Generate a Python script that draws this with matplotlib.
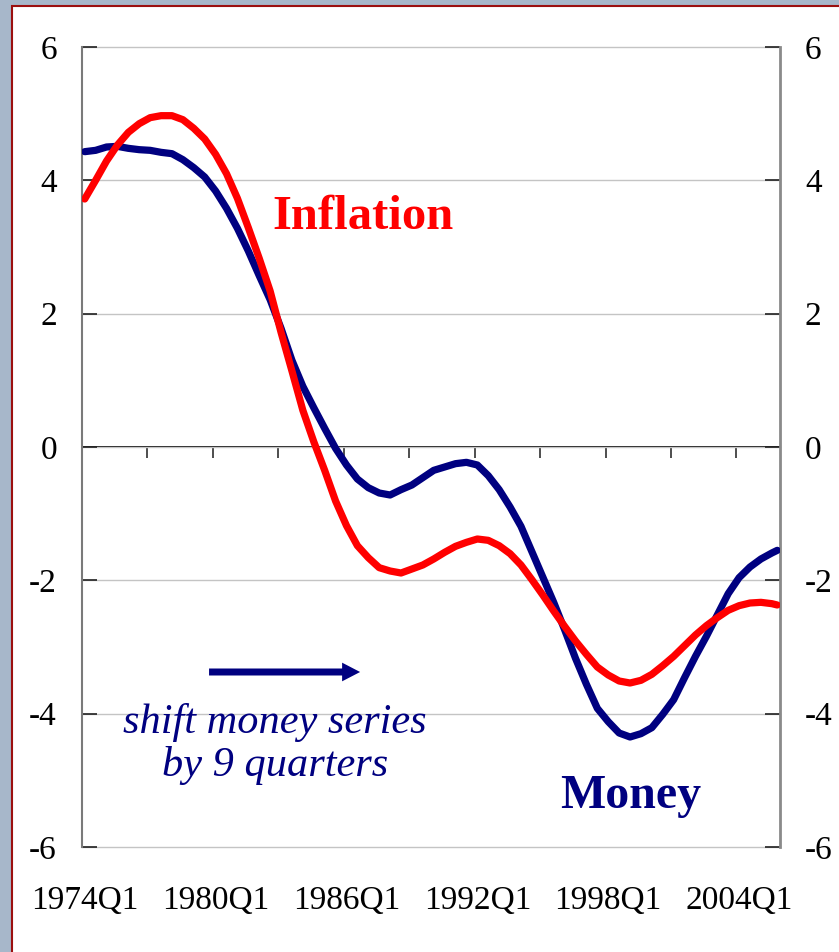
import matplotlib
matplotlib.use("Agg")
import matplotlib.pyplot as plt
from matplotlib.patches import Rectangle

# ---- data (semi-annual readings, quarter index from 1974Q1) ----
quarter_idx = list(range(0, 127, 2)) + [127]
inflation = [3.72, 4.00, 4.29, 4.53, 4.72, 4.85, 4.94, 4.97, 4.97, 4.91,
             4.78, 4.62, 4.39, 4.10, 3.73, 3.29, 2.83, 2.34, 1.72, 1.14,
             0.55, 0.08, -0.35, -0.81, -1.18, -1.48, -1.66, -1.81, -1.86, -1.89,
             -1.83, -1.77, -1.68, -1.58, -1.49, -1.43, -1.38, -1.40, -1.48, -1.60,
             -1.77, -1.99, -2.22, -2.46, -2.69, -2.91, -3.11, -3.30, -3.42, -3.51,
             -3.54, -3.50, -3.41, -3.28, -3.14, -2.98, -2.82, -2.68, -2.56, -2.45,
             -2.38, -2.34, -2.33, -2.35, -2.37]
money = [4.43, 4.45, 4.50, 4.51, 4.48, 4.46, 4.45, 4.42, 4.40, 4.31,
         4.19, 4.05, 3.84, 3.58, 3.28, 2.94, 2.57, 2.21, 1.78, 1.30,
         0.91, 0.59, 0.28, -0.02, -0.27, -0.48, -0.61, -0.69, -0.72, -0.64,
         -0.57, -0.46, -0.35, -0.30, -0.25, -0.23, -0.27, -0.43, -0.64, -0.90,
         -1.19, -1.57, -1.95, -2.33, -2.74, -3.17, -3.56, -3.92, -4.12, -4.29,
         -4.35, -4.30, -4.21, -4.01, -3.79, -3.46, -3.14, -2.84, -2.52, -2.20,
         -1.96, -1.80, -1.68, -1.59, -1.55]
n_quarters = 128
xtick_label_idx = [0, 24, 48, 72, 96, 120]
xtick_labels = ["1974Q1", "1980Q1", "1986Q1", "1992Q1", "1998Q1", "2004Q1"]
ytick_vals = [-6, -4, -2, 0, 2, 4, 6]

plt.rcParams['font.family'] = ['Liberation Serif', 'DejaVu Serif']

fig = plt.figure(figsize=(8.39, 9.52), dpi=100, facecolor='#a7b7ca')
# white panel with dark red edge
fig.patches.append(Rectangle((12/839, -0.05), 1.0, 1 - 5.5/952 + 0.05,
                             transform=fig.transFigure, facecolor='white',
                             edgecolor='#9b0f0f', lw=1.5, zorder=-1))

ax = fig.add_axes([82/839, 1 - 847/952, (780 - 82)/839, (847 - 47)/952])
ax.set_facecolor('white')

navy = '#000080'
red = '#ff0000'

ax.plot(quarter_idx, inflation, color=red, lw=5.2, solid_capstyle='round',
        solid_joinstyle='round', zorder=4)
ax.plot(quarter_idx, money, color=navy, lw=5.2, solid_capstyle='round',
        solid_joinstyle='round', zorder=3)

ax.set_xlim(-0.5, n_quarters - 0.5)
ax.set_ylim(-6, 6)

ax.set_yticks(ytick_vals)
ax.set_yticklabels([str(v) for v in ytick_vals])
ax.yaxis.grid(True, color='#c4c4c4', lw=1.0)
ax.set_axisbelow(True)
for gl in ax.get_ygridlines():
    gl.set_clip_on(False)
ax.tick_params(axis='y', which='both', left=True, right=True,
               labelleft=True, labelright=True, direction='in', length=11,
               width=1.2, color='#202020', labelsize=24, pad=18)

ax.set_xticks(xtick_label_idx)
ax.set_xticklabels(xtick_labels)
ax.tick_params(axis='x', length=0, labelsize=24, pad=28)

for s in ['top', 'bottom']:
    ax.spines[s].set_visible(False)
ax.spines['left'].set_color('#7a7a7a')
ax.spines['right'].set_color('#8a8a8a')
ax.spines['left'].set_linewidth(1.5)
ax.spines['right'].set_linewidth(2.0)

# zero axis with category tick marks
sec = ax.secondary_xaxis(0.5)
sec.set_alignment('bottom')
sec.set_xticks([-0.5 + 12 * k for k in range(11)])
sec.tick_params(axis='x', direction='out', length=8, width=1.2,
                color='#303030', labelbottom=False, labeltop=False)
sec.spines['bottom'].set_color('black')
sec.spines['bottom'].set_linewidth(1.3)

# annotations
ax.text(51.0, 3.27, "Inflation", color=red, fontsize=35, fontweight='bold',
        ha='center', va='baseline', zorder=5)
ax.text(100.2, -5.41, "Money", color=navy, fontsize=34.5, fontweight='bold',
        ha='center', va='baseline', zorder=5)
ax.text(34.9, -4.29, "shift money series", color=navy, fontsize=30.5,
        style='italic', ha='center', va='baseline', zorder=5)
ax.text(34.9, -4.93, "by 9 quarters", color=navy, fontsize=30.5,
        style='italic', ha='center', va='baseline', zorder=5)
ax.arrow(22.8, -3.375, 27.7, 0, width=0.105, head_width=0.28,
         head_length=3.3, length_includes_head=True, color=navy, lw=0,
         zorder=5)

fig.savefig("out.png", dpi=100, facecolor=fig.get_facecolor())
